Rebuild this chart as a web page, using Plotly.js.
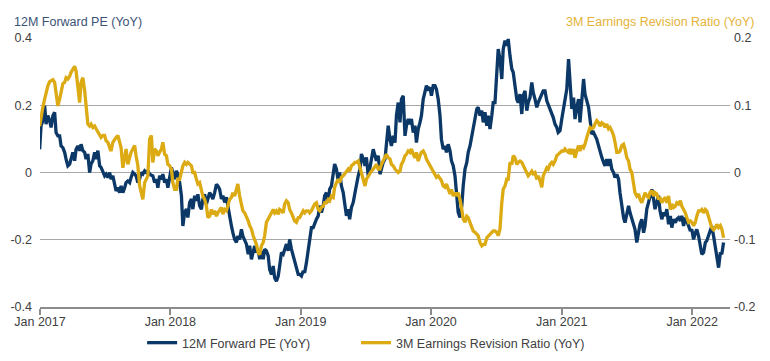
<!DOCTYPE html>
<html>
<head>
<meta charset="utf-8">
<script src="https://cdn.plot.ly/plotly-3.0.1.min.js"></script>
<style>
  html, body { margin: 0; padding: 0; background: #ffffff; }
  #chart { width: 770px; height: 361px; }
</style>
</head>
<body>
<div id="chart"></div>
<script>
// ---- Data ----
// Series are sampled at a regular interval starting at SERIES_START.
const SERIES_START = '2016-12-31';
const SAMPLE_STEP_DAYS = 4.672;

const seriesNames = ['12M Forward PE (YoY)', '3M Earnings Revision Ratio (YoY)'];

// 12M Forward PE (YoY) — left axis
const forwardPE = [
  0.069,0.139,0.154,0.199,0.144,0.169,0.154,0.134,0.169,0.179,
  0.119,0.109,0.109,0.079,0.074,0.060,0.040,0.020,0.025,0.040,
  0.060,0.035,0.069,0.079,0.065,0.084,0.065,0.060,0.040,0.055,
  0.000,0.025,0.035,0.060,0.040,0.065,0.020,0.015,0.000,-0.010,
  -0.005,-0.015,0.000,-0.020,-0.010,-0.035,-0.055,-0.045,-0.060,-0.040,
  -0.060,-0.045,-0.030,-0.025,-0.030,-0.015,0.000,-0.005,-0.010,-0.030,
  -0.020,0.000,-0.005,0.005,0.000,0.005,
  -0.005,-0.008,-0.010,-0.030,-0.020,-0.045,-0.010,-0.020,-0.005,-0.030,
  -0.020,-0.045,-0.015,0.015,0.000,-0.020,0.005,-0.005,-0.030,-0.069,
  -0.159,-0.119,-0.109,-0.134,-0.089,-0.079,-0.109,-0.069,-0.084,-0.065,
  -0.099,-0.109,-0.079,-0.065,-0.094,-0.074,-0.060,-0.069,-0.079,-0.060,
  -0.035,-0.040,-0.050,-0.079,-0.069,-0.089,-0.074,-0.099,-0.134,-0.159,
  -0.179,-0.199,-0.208,-0.189,-0.199,-0.169,-0.189,-0.203,-0.213,-0.243,
  -0.218,-0.258,-0.228,-0.218,-0.238,-0.228,-0.258,-0.233,-0.258,
  -0.228,-0.233,-0.248,-0.288,-0.303,-0.278,-0.313,-0.323,-0.308,-0.278,
  -0.238,-0.243,-0.228,-0.213,-0.233,-0.199,-0.228,-0.248,-0.268,-0.288,
  -0.303,-0.303,-0.308,-0.293,-0.298,-0.268,-0.228,-0.189,-0.164,-0.164,
  -0.149,-0.139,-0.129,-0.099,-0.119,-0.099,-0.069,-0.060,-0.089,-0.050,
  -0.040,0.000,0.025,0.010,-0.025,0.000,-0.040,-0.060,-0.094,-0.129,
  -0.109,-0.139,-0.104,-0.089,-0.060,-0.030,-0.010,0.010,0.055,0.040,
  0.020,0.045,-0.010,0.015,0.040,0.069,0.050,0.035,0.050,
  -0.005,0.010,0.030,0.040,0.089,0.139,0.099,0.079,0.109,0.089,
  0.169,0.208,0.149,0.218,0.228,0.109,0.139,0.159,0.144,0.159,
  0.119,0.139,0.089,0.129,0.149,0.169,0.218,0.243,0.258,0.248,
  0.253,0.228,0.258,0.258,0.248,0.218,0.169,0.099,0.069,0.079,
  0.060,0.084,0.065,0.035,0.020,-0.010,-0.060,-0.119,-0.134,-0.099,
  -0.040,0.010,0.030,0.060,0.079,0.109,0.124,0.149,0.189,0.194,
  0.169,0.184,0.149,0.179,0.139,0.169,0.129,0.169,0.208,
  0.208,0.288,0.367,0.337,0.278,0.367,0.392,0.377,0.397,0.347,
  0.308,0.298,0.258,0.218,0.208,0.233,0.174,0.228,0.243,0.184,
  0.208,0.223,0.268,0.238,0.218,0.194,0.208,0.218,0.233,0.243,
  0.243,0.213,0.203,0.189,0.179,0.164,0.144,0.134,0.119,0.124,
  0.159,0.194,0.228,0.248,0.337,0.268,0.189,0.223,0.159,0.194,
  0.218,0.149,0.208,0.278,0.233,0.208,0.194,0.159,0.114,0.119,
  0.109,0.099,0.079,0.060,0.045,0.030,0.020,0.040,0.020,
  0.040,0.010,0.000,-0.015,-0.005,-0.020,-0.060,-0.099,-0.134,-0.149,
  -0.119,-0.099,-0.119,-0.139,-0.159,-0.169,-0.208,-0.169,-0.154,-0.139,
  -0.179,-0.159,-0.109,-0.089,-0.069,-0.050,-0.079,-0.109,-0.089,-0.069,
  -0.114,-0.139,-0.119,-0.129,-0.109,-0.154,-0.129,-0.164,-0.139,-0.149,
  -0.139,-0.134,-0.144,-0.129,-0.159,-0.134,-0.144,-0.159,-0.174,-0.169,
  -0.199,-0.179,-0.169,-0.189,-0.228,-0.243,-0.238,-0.208,-0.203,-0.189,
  -0.174,-0.159,-0.189,-0.218,-0.248,-0.283,-0.238,-0.243,-0.208
];

// 3M Earnings Revision Ratio (YoY) — right axis
const revisionRatio = [
  0.069,0.084,0.097,0.109,0.119,0.129,0.135,0.136,0.138,0.134,
  0.119,0.099,0.109,0.118,0.132,0.134,0.141,0.139,0.143,0.149,
  0.154,0.158,0.151,0.129,0.104,0.134,0.141,0.122,0.104,0.072,
  0.069,0.072,0.067,0.069,0.065,0.060,0.057,0.052,0.055,0.055,
  0.047,0.045,0.037,0.032,0.045,0.050,0.052,0.055,0.045,0.037,
  0.007,0.020,0.035,0.012,0.022,0.030,0.035,0.040,0.025,0.010,
  -0.020,-0.030,-0.040,-0.015,-0.010,-0.005,
  0.050,0.055,0.015,0.035,0.032,0.025,0.030,0.035,0.045,0.027,
  0.025,0.012,0.010,0.005,-0.015,-0.025,-0.025,-0.010,-0.010,0.000,
  0.010,0.015,0.012,0.015,0.012,0.010,0.000,0.000,-0.010,-0.017,
  -0.015,-0.025,-0.035,-0.040,-0.050,-0.067,-0.065,-0.055,-0.062,-0.057,
  -0.065,-0.060,-0.055,-0.052,-0.062,-0.055,-0.057,-0.050,-0.040,-0.037,
  -0.030,-0.035,-0.025,-0.017,-0.035,-0.050,-0.057,-0.060,-0.065,-0.072,
  -0.079,-0.084,-0.094,-0.099,-0.107,-0.119,-0.122,-0.109,-0.104,
  -0.094,-0.074,-0.069,-0.065,-0.061,-0.055,-0.060,-0.057,-0.062,-0.055,
  -0.057,-0.060,-0.047,-0.042,-0.045,-0.055,-0.060,-0.067,-0.072,-0.074,
  -0.067,-0.067,-0.062,-0.057,-0.060,-0.057,-0.057,-0.060,-0.057,-0.052,
  -0.047,-0.045,-0.055,-0.057,-0.052,-0.050,-0.045,-0.045,-0.040,-0.042,
  -0.035,-0.037,-0.022,-0.015,-0.010,-0.015,-0.007,-0.005,-0.002,0.000,
  0.005,0.002,0.010,0.012,0.015,0.015,0.017,0.007,0.000,-0.010,
  -0.020,-0.010,-0.005,0.000,0.002,0.005,0.010,0.012,0.005,
  0.005,0.012,0.017,0.022,0.027,0.022,0.020,0.012,0.010,0.005,
  0.002,0.000,0.002,0.012,0.017,0.025,0.027,0.032,0.030,0.035,
  0.027,0.022,0.030,0.017,0.025,0.030,0.032,0.027,0.020,0.015,
  0.010,0.005,0.000,-0.005,-0.007,-0.005,-0.010,-0.012,-0.020,-0.022,
  -0.017,-0.025,-0.032,-0.025,-0.035,-0.030,-0.035,-0.030,-0.040,-0.055,
  -0.069,-0.074,-0.065,-0.067,-0.074,-0.082,-0.087,-0.089,-0.092,-0.094,
  -0.104,-0.109,-0.107,-0.107,-0.097,-0.094,-0.092,-0.089,-0.087,
  -0.087,-0.089,-0.094,-0.084,-0.045,-0.025,-0.020,-0.010,-0.010,0.015,
  0.012,0.025,0.022,0.012,0.015,0.017,0.015,0.010,0.005,0.000,
  -0.005,-0.002,0.002,-0.002,0.000,-0.010,-0.005,-0.012,-0.022,-0.005,
  0.000,0.007,0.005,0.012,0.015,0.012,0.017,0.025,0.027,0.030,
  0.032,0.032,0.035,0.032,0.030,0.035,0.027,0.035,0.022,0.032,
  0.040,0.032,0.040,0.037,0.042,0.052,0.062,0.067,0.065,0.067,
  0.072,0.077,0.074,0.069,0.074,0.072,0.067,0.072,0.065,
  0.067,0.062,0.055,0.045,0.030,0.030,0.032,0.040,0.042,0.035,
  0.022,0.017,0.005,0.000,-0.015,-0.030,-0.035,-0.032,-0.040,-0.045,
  -0.037,-0.030,-0.035,-0.037,-0.030,-0.027,-0.035,-0.030,-0.032,-0.040,
  -0.037,-0.045,-0.040,-0.037,-0.045,-0.035,-0.055,-0.047,-0.052,-0.050,
  -0.045,-0.047,-0.042,-0.050,-0.055,-0.060,-0.067,-0.074,-0.072,-0.074,
  -0.079,-0.074,-0.065,-0.057,-0.057,-0.055,-0.060,-0.055,-0.057,-0.065,
  -0.075,-0.082,-0.085,-0.082,-0.077,-0.082,-0.079,-0.084,-0.097
];

// Axis ticks
const leftTickVals = [-0.4, -0.2, 0, 0.2, 0.4];
const leftTickText = ['-0.4', '-0.2', '0', '0.2', '0.4'];
const rightTickVals = [-0.2, -0.1, 0, 0.1, 0.2];
const rightTickText = ['-0.2', '-0.1', '0', '0.1', '0.2'];
const xRange = ['2017-01-01', '2022-04-17'];

// ---- Build ----
const startMs = Date.parse(SERIES_START + 'T00:00:00Z');
const dates = forwardPE.map((_, i) =>
  new Date(startMs + i * SAMPLE_STEP_DAYS * 86400000).toISOString().slice(0, 10));

const NAVY = '#0b3866';
const GOLD = '#dcaa12';
const FONT = '"Liberation Sans", Arial, Helvetica, sans-serif';
const legendFont = { family: FONT, size: 12.5, color: '#404040' };

const traces = [
  {
    x: dates, y: revisionRatio, yaxis: 'y2', type: 'scatter', mode: 'lines',
    name: seriesNames[1], legend: 'legend2',
    line: { color: GOLD, width: 3.3 }, hoverinfo: 'skip'
  },
  {
    x: dates, y: forwardPE, yaxis: 'y', type: 'scatter', mode: 'lines',
    name: seriesNames[0], legend: 'legend',
    line: { color: NAVY, width: 3.3 }, hoverinfo: 'skip'
  }
];

const layout = {
  width: 770, height: 361,
  margin: { l: 40, r: 40, t: 38, b: 54, pad: 0, autoexpand: false },
  paper_bgcolor: '#ffffff', plot_bgcolor: '#ffffff',
  font: { family: FONT, size: 12.5, color: '#404040' },
  showlegend: true,
  legend: {
    orientation: 'h', x: 0.148, xanchor: 'left', y: -0.134, yanchor: 'middle',
    font: legendFont, bgcolor: 'rgba(0,0,0,0)'
  },
  legend2: {
    orientation: 'h', x: 0.458, xanchor: 'left', y: -0.134, yanchor: 'middle',
    font: legendFont, bgcolor: 'rgba(0,0,0,0)'
  },
  xaxis: {
    type: 'date', range: xRange,
    tickformat: '%b %Y', dtick: 'M12', tick0: '2017-01-01',
    showgrid: false, zeroline: false,
    showline: true, linecolor: '#8c8c8c', linewidth: 2,
    ticks: 'outside', ticklen: 6, tickwidth: 2, tickcolor: '#8c8c8c',
    ticklabelstandoff: -4,
    tickfont: { family: FONT, size: 12.5, color: '#404040' }
  },
  yaxis: {
    range: [-0.4, 0.4], tickvals: leftTickVals, ticktext: leftTickText,
    showgrid: true, gridcolor: '#a8a8a8', gridwidth: 1,
    zeroline: false, showline: false, ticks: '',
    ticklabelstandoff: 7,
    tickfont: { family: FONT, size: 12.5, color: '#404040' }
  },
  yaxis2: {
    range: [-0.2, 0.2], tickvals: rightTickVals, ticktext: rightTickText,
    overlaying: 'y', side: 'right',
    showgrid: false, zeroline: false, showline: false, ticks: '',
    ticklabelstandoff: 3,
    tickfont: { family: FONT, size: 12.5, color: '#404040' }
  },
  annotations: [
    {
      text: seriesNames[0], xref: 'paper', yref: 'paper',
      x: -0.0406, y: 1.06, xanchor: 'left', yanchor: 'middle', showarrow: false,
      font: { family: FONT, size: 12.5, color: '#3a5276' }
    },
    {
      text: seriesNames[1], xref: 'paper', yref: 'paper',
      x: 1.039, y: 1.06, xanchor: 'right', yanchor: 'middle', showarrow: false,
      font: { family: FONT, size: 12.5, color: '#e3b33a' }
    }
  ]
};

Plotly.newPlot('chart', traces, layout, { displayModeBar: false, staticPlot: true });
</script>
</body>
</html>
